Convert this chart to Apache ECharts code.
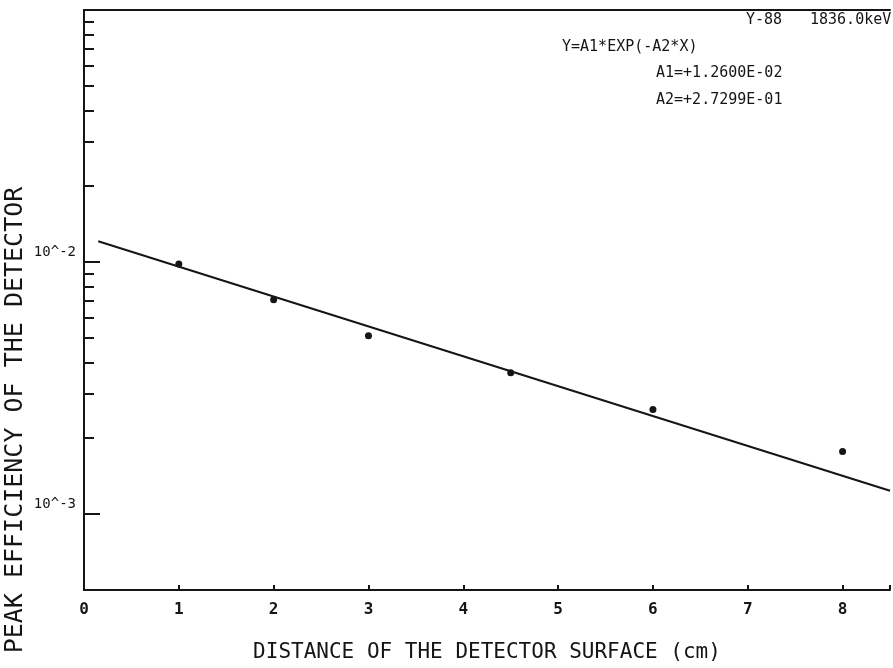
<!DOCTYPE html>
<html>
<head>
<meta charset="utf-8">
<title>Peak efficiency vs. distance</title>
<script src="https://cdn.jsdelivr.net/npm/echarts@6/dist/echarts.min.js"></script>
<style>
  html, body { margin: 0; padding: 0; background: #ffffff; }
  #chart { width: 893px; height: 668px; }
</style>
</head>
<body>
<div id="chart"></div>
<script>
// Measured points: source-to-detector distance (cm) and peak efficiency
const distance = [1, 2, 3, 4.5, 6, 8];
const efficiency = [0.00982, 0.00708, 0.00510, 0.00364, 0.00260, 0.00177];

// Fit parameters Y = A1 * EXP(-A2 * X)
const A1 = 1.2600e-02;
const A2 = 2.7299e-01;
const fitRange = [0.15, 8.5];

// Axis ranges and ticks
const xRange = [0, 8.5];
const yRange = [5e-4, 1e-1];
const yMajorTicks = [0.001, 0.01];
const yMinorTicks = [0.002, 0.003, 0.004, 0.005, 0.006, 0.007, 0.008, 0.009,
                     0.02, 0.03, 0.04, 0.05, 0.06, 0.07, 0.08, 0.09];

// Annotation block
const nuclide = 'Y-88';
const energy = '1836.0keV';
const formula = 'Y=A1*EXP(-A2*X)';
const paramA1 = 'A1=+1.2600E-02';
const paramA2 = 'A2=+2.7299E-01';

const FONT = 'DejaVu Sans Mono';
const INK = '#151515';

// Fit line endpoints (straight on the log axis)
const fitLine = fitRange.map(x => [x, A1 * Math.exp(-A2 * x)]);

const chart = echarts.init(document.getElementById('chart'), null, { renderer: 'canvas' });

chart.setOption({
  backgroundColor: '#ffffff',
  animation: false,
  grid: { left: 84, top: 10, width: 811, bottom: 76, containLabel: false },
  xAxis: [
    {
      type: 'value',
      min: xRange[0], max: xRange[1], interval: 1,
      position: 'bottom',
      axisLine: { show: true, lineStyle: { color: INK, width: 2 } },
      axisTick: { show: true, inside: true, length: 5, lineStyle: { color: INK, width: 2 } },
      axisLabel: {
        show: true, margin: 12, color: INK, fontFamily: FONT, fontSize: 16, fontWeight: 'bold',
        formatter: v => (Number.isInteger(v) ? String(v) : '')
      },
      splitLine: { show: false },
      name: 'DISTANCE OF THE DETECTOR SURFACE (cm)',
      nameLocation: 'middle',
      nameGap: 52,
      nameTextStyle: { color: INK, fontFamily: FONT, fontSize: 21 }
    },
    {
      type: 'value',
      min: xRange[0], max: xRange[1],
      position: 'top',
      axisLine: { show: true, lineStyle: { color: INK, width: 2 } },
      axisTick: { show: false },
      axisLabel: { show: false },
      splitLine: { show: false }
    }
  ],
  yAxis: [
    {
      type: 'log',
      logBase: 10,
      min: yRange[0], max: yRange[1],
      position: 'left',
      axisLine: { show: true, lineStyle: { color: INK, width: 2 } },
      axisTick: {
        show: true, inside: true, length: 16,
        customValues: yMajorTicks,
        lineStyle: { color: INK, width: 2 }
      },
      axisLabel: {
        show: true, margin: 8, color: INK, fontFamily: FONT, fontSize: 14,
        customValues: yMajorTicks,
        verticalAlign: 'bottom',
        padding: [0, 0, 3, 0],
        formatter: v => '10^' + Math.round(Math.log10(v))
      },
      splitLine: { show: false }
    },
    {
      type: 'log',
      logBase: 10,
      min: yRange[0], max: yRange[1],
      position: 'left',
      axisLine: { show: false },
      axisTick: {
        show: true, inside: true, length: 10,
        customValues: yMinorTicks,
        lineStyle: { color: INK, width: 2 }
      },
      axisLabel: { show: false },
      splitLine: { show: false }
    }
  ],
  graphic: [
    {
      type: 'text',
      x: 15, y: 420, rotation: Math.PI / 2,
      style: {
        text: 'PEAK EFFICIENCY OF THE DETECTOR',
        fill: INK, font: '25px "' + FONT + '"',
        align: 'center', verticalAlign: 'middle'
      }
    },
    { type: 'text', x: 746, y: 20, style: { text: nuclide, fill: INK, font: '15px "' + FONT + '"', verticalAlign: 'middle' } },
    { type: 'text', x: 810, y: 20, style: { text: energy, fill: INK, font: '15px "' + FONT + '"', verticalAlign: 'middle' } },
    { type: 'text', x: 562, y: 47, style: { text: formula, fill: INK, font: '15px "' + FONT + '"', verticalAlign: 'middle' } },
    { type: 'text', x: 656, y: 73, style: { text: paramA1, fill: INK, font: '15px "' + FONT + '"', verticalAlign: 'middle' } },
    { type: 'text', x: 656, y: 100, style: { text: paramA2, fill: INK, font: '15px "' + FONT + '"', verticalAlign: 'middle' } }
  ],
  series: [
    {
      name: 'fit',
      type: 'line',
      xAxisIndex: 0, yAxisIndex: 0,
      data: fitLine,
      showSymbol: false,
      symbol: 'none',
      lineStyle: { color: INK, width: 2 },
      z: 2
    },
    {
      name: 'measured',
      type: 'scatter',
      xAxisIndex: 0, yAxisIndex: 0,
      data: distance.map((x, i) => [x, efficiency[i]]),
      symbol: 'circle',
      symbolSize: 7,
      itemStyle: { color: INK, opacity: 1 },
      z: 3
    }
  ]
});
</script>
</body>
</html>
